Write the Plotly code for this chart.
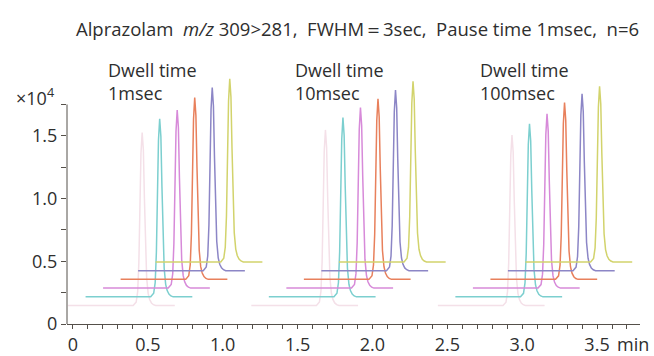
import plotly.graph_objects as go

# ---------------- data ----------------
groups = ["1msec", "10msec", "100msec"]            # dwell times
apex_first = [0.462, 1.686, 2.932]                  # apex time (min) of first replicate in each group
heights = [                                          # peak height above baseline (x10^4), n=6
    [1.38, 1.42, 1.42, 1.45, 1.46, 1.46],
    [1.40, 1.43, 1.44, 1.44, 1.44, 1.44],
    [1.36, 1.38, 1.39, 1.41, 1.41, 1.40],
]
# normalised peak profile (time from apex in min, relative intensity)
prof_t = [-0.06, -0.04, -0.03, -0.022, -0.015, -0.008, 0.0, 0.008, 0.015,
          0.022, 0.03, 0.04, 0.05, 0.062, 0.075, 0.09]
prof_i = [0.0, 0.02, 0.08, 0.25, 0.55, 0.88, 1.0, 0.9, 0.62,
          0.35, 0.16, 0.07, 0.035, 0.015, 0.005, 0.0]
win_start, win_end = -0.495, 0.218                  # chromatogram window around apex (min)

x_ticks = [0, 0.5, 1.0, 1.5, 2.0, 2.5, 3.0, 3.5]
x_ticktext = ["0", "0.5", "1.0", "1.5", "2.0", "2.5", "3.0", "3.5"]
y_ticks = [0, 0.5, 1.0, 1.5]
y_ticktext = ["0", "0.5", "1.0", "1.5"]
y_axis_top = 1.75

# ---------------- style ----------------
colors = ["#f4e0e8", "#7ccfcf", "#d78ad9", "#e8805c", "#8c86c6", "#d2d36c"]
dx, dy, base0 = 0.117, 0.0696, 0.147               # waterfall offsets
FONT = "Open Sans"
FS = 18
TXT = "#2e2e2e"
AX = "#55504a"

W, H = 654, 356
L, R, T, B = 67, 14, 70, 31.5
pw, ph = W - L - R, H - T - B

def px(x):  # reference pixel -> paper
    return (x - L) / pw

def py(y):
    return (H - B - y) / ph

fig = go.Figure()
for g, ap in enumerate(apex_first):
    for k in range(6):
        a = ap + k * dx
        b = base0 + k * dy
        xs = [a + win_start] + [a + t for t in prof_t] + [a + win_end]
        ys = [b] + [b + heights[g][k] * v for v in prof_i] + [b]
        fig.add_trace(go.Scatter(x=xs, y=ys, mode="lines",
                                 line=dict(color=colors[k], width=1.5),
                                 showlegend=False, hoverinfo="skip"))

fig.update_layout(
    template="none",
    width=W, height=H,
    margin=dict(l=L, r=R, t=T, b=B, autoexpand=False),
    paper_bgcolor="white", plot_bgcolor="white",
    font=dict(family=FONT, size=FS, color=TXT),
    xaxis=dict(range=[-0.04, 3.787], showgrid=False, zeroline=False, automargin=False,
               showline=True, linecolor=AX, linewidth=1,
               ticks="outside", ticklen=4, tickcolor=AX,
               tickvals=x_ticks, ticktext=x_ticktext,
               tickfont=dict(family=FONT, size=FS, color=TXT),
               minor=dict(dtick=0.1, tick0=0, ticks="outside", ticklen=4, tickcolor=AX)),
    yaxis=dict(range=[0, (H - B - T) / 125.7], showgrid=False, zeroline=False, automargin=False,
               showline=False,
               ticks="outside", ticklen=5, tickcolor=AX,
               tickvals=y_ticks, ticktext=y_ticktext,
               tickfont=dict(family=FONT, size=FS, color=TXT),
               minor=dict(tickvals=[0.25, 0.75, 1.25, 1.75], ticks="outside", ticklen=5,
                          tickcolor=AX)),
    shapes=[dict(type="line", xref="paper", yref="y", x0=0, x1=0, y0=0, y1=y_axis_top,
                 line=dict(color=AX, width=1))],
)

ann = []
ann.append(dict(text="Alprazolam  <i>m/z</i> 309&gt;281,  FWHM＝3sec,  Pause time 1msec,  n=6",
                xref="paper", yref="paper", x=px(357), y=py(28),
                xanchor="center", yanchor="middle", showarrow=False,
                font=dict(family=FONT, size=18.5, color=TXT)))
label_x = [106, 293, 478]
for g, name in enumerate(groups):
    ann.append(dict(text="Dwell time<br>" + name, xref="paper", yref="paper",
                    x=px(label_x[g]), y=py(56), xanchor="left", yanchor="top",
                    align="left", showarrow=False, font=dict(family=FONT, size=FS, color=TXT)))
ann.append(dict(text="×10<sup>4</sup>", xref="paper", yref="paper",
                x=px(35), y=py(97), xanchor="center", yanchor="middle",
                showarrow=False, font=dict(family=FONT, size=FS, color=TXT)))
ann.append(dict(text="min", xref="paper", yref="paper",
                x=px(651), y=py(345), xanchor="right", yanchor="middle",
                showarrow=False, font=dict(family=FONT, size=FS, color=TXT)))
fig.update_layout(annotations=ann)

fig.write_html("out.html",
               config={"displayModeBar": False, "staticPlot": True},
               post_script="document.body.style.margin='0';document.body.style.overflow='hidden';")
